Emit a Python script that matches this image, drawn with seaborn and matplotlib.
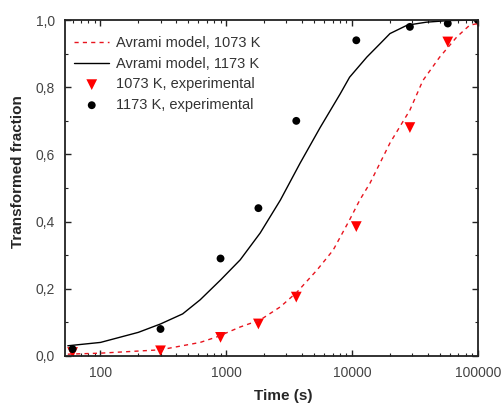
import numpy as np
import pandas as pd
import matplotlib
matplotlib.use('Agg')
import matplotlib.pyplot as plt
import matplotlib.ticker as mticker
import seaborn as sns

# experimental points
t_exp = [60, 300, 900, 1800, 3600, 10800, 28800, 57600, 100000]
f_1073 = [0.01, 0.015, 0.055, 0.095, 0.175, 0.385, 0.68, 0.935, 0.995]
f_1173 = [0.02, 0.08, 0.29, 0.44, 0.70, 0.94, 0.98, 0.99, 1.0]

# Avrami model curves
t_1173 = [55, 100, 200, 300, 450, 620, 900, 1290, 1860, 2690, 3860, 5570,
          8030, 9550, 13100, 16700, 20000, 27400, 39000, 60000, 100000]
m_1173 = [0.03, 0.04, 0.07, 0.095, 0.125, 0.167, 0.226, 0.286, 0.366, 0.464,
          0.574, 0.68, 0.78, 0.83, 0.89, 0.93, 0.96, 0.985, 0.994, 0.999, 1.0]
t_1073 = [55, 100, 300, 620, 850, 1290, 1860, 2690, 3650, 5270, 7070, 9550,
          11500, 13900, 20000, 28800, 36500, 49700, 68000, 86000, 100000]
m_1073 = [0.005, 0.008, 0.018, 0.04, 0.057, 0.086, 0.107, 0.146, 0.19, 0.256,
          0.315, 0.405, 0.464, 0.515, 0.634, 0.732, 0.82, 0.89, 0.95, 0.985, 0.99]

sns.set_style("ticks")
plt.rcParams['font.family'] = ['Liberation Sans', 'DejaVu Sans']

fig = plt.figure(figsize=(5.02, 4.03), dpi=100)
ax = fig.add_axes([0.129, 0.117, 0.823, 0.833])

red = '#e8141e'
sns.lineplot(x=t_1073, y=m_1073, ax=ax, color=red, lw=1.0, linestyle=(0, (3, 3)),
             label='Avrami model, 1073 K')
sns.lineplot(x=t_1173, y=m_1173, ax=ax, color='black', lw=1.0,
             label='Avrami model, 1173 K')
sns.scatterplot(x=t_exp, y=f_1073, ax=ax, color='#ff0000', marker='v', s=60,
                edgecolor='none', label='1073 K, experimental')
sns.scatterplot(x=t_exp, y=f_1173, ax=ax, color='black', marker='o', s=32,
                edgecolor='none', label='1173 K, experimental')

ax.set_xscale('log')
ax.set_xlim(52, 100000)
ax.set_ylim(0, 1.0)
ax.xaxis.set_major_locator(mticker.FixedLocator([100, 1000, 10000, 100000]))
ax.xaxis.set_major_formatter(mticker.FuncFormatter(lambda v, p: f"{int(v)}"))
ax.xaxis.set_minor_locator(mticker.LogLocator(base=10, subs=np.arange(2, 10)))
ax.xaxis.set_minor_formatter(mticker.NullFormatter())
ax.yaxis.set_major_locator(mticker.MultipleLocator(0.2))
ax.yaxis.set_minor_locator(mticker.MultipleLocator(0.1))
ax.yaxis.set_major_formatter(mticker.FuncFormatter(lambda v, p: f"{v:.1f}".replace('.', ',')))

for s in ax.spines.values():
    s.set_linewidth(1.3)
    s.set_color('#222222')
ax.tick_params(which='both', direction='in', top=True, right=True,
               labelsize=10, labelcolor='#444444', color='#222222')
ax.tick_params(axis='x', pad=7)
ax.tick_params(axis='y', pad=7)
ax.tick_params(which='major', length=4, width=1.0)
ax.tick_params(which='minor', length=2.5, width=0.8)

ax.set_xlabel('Time (s)', fontsize=11, fontweight='bold')
ax.set_ylabel('Transformed fraction', fontsize=11, fontweight='bold')
ax.xaxis.set_label_coords(0.528, -0.119, transform=ax.transAxes)
ax.yaxis.set_label_coords(-0.114, 0.548, transform=ax.transAxes)
ax.xaxis.label.set_va('center')
ax.yaxis.label.set_va('center')

ax.legend(loc='upper left', bbox_to_anchor=(0, 0.98), frameon=False, fontsize=10.5,
          handlelength=2.4, handletextpad=0.45, labelspacing=0.45,
          borderaxespad=0.25, labelcolor='#333333')

fig.savefig('out.png', dpi=100)
